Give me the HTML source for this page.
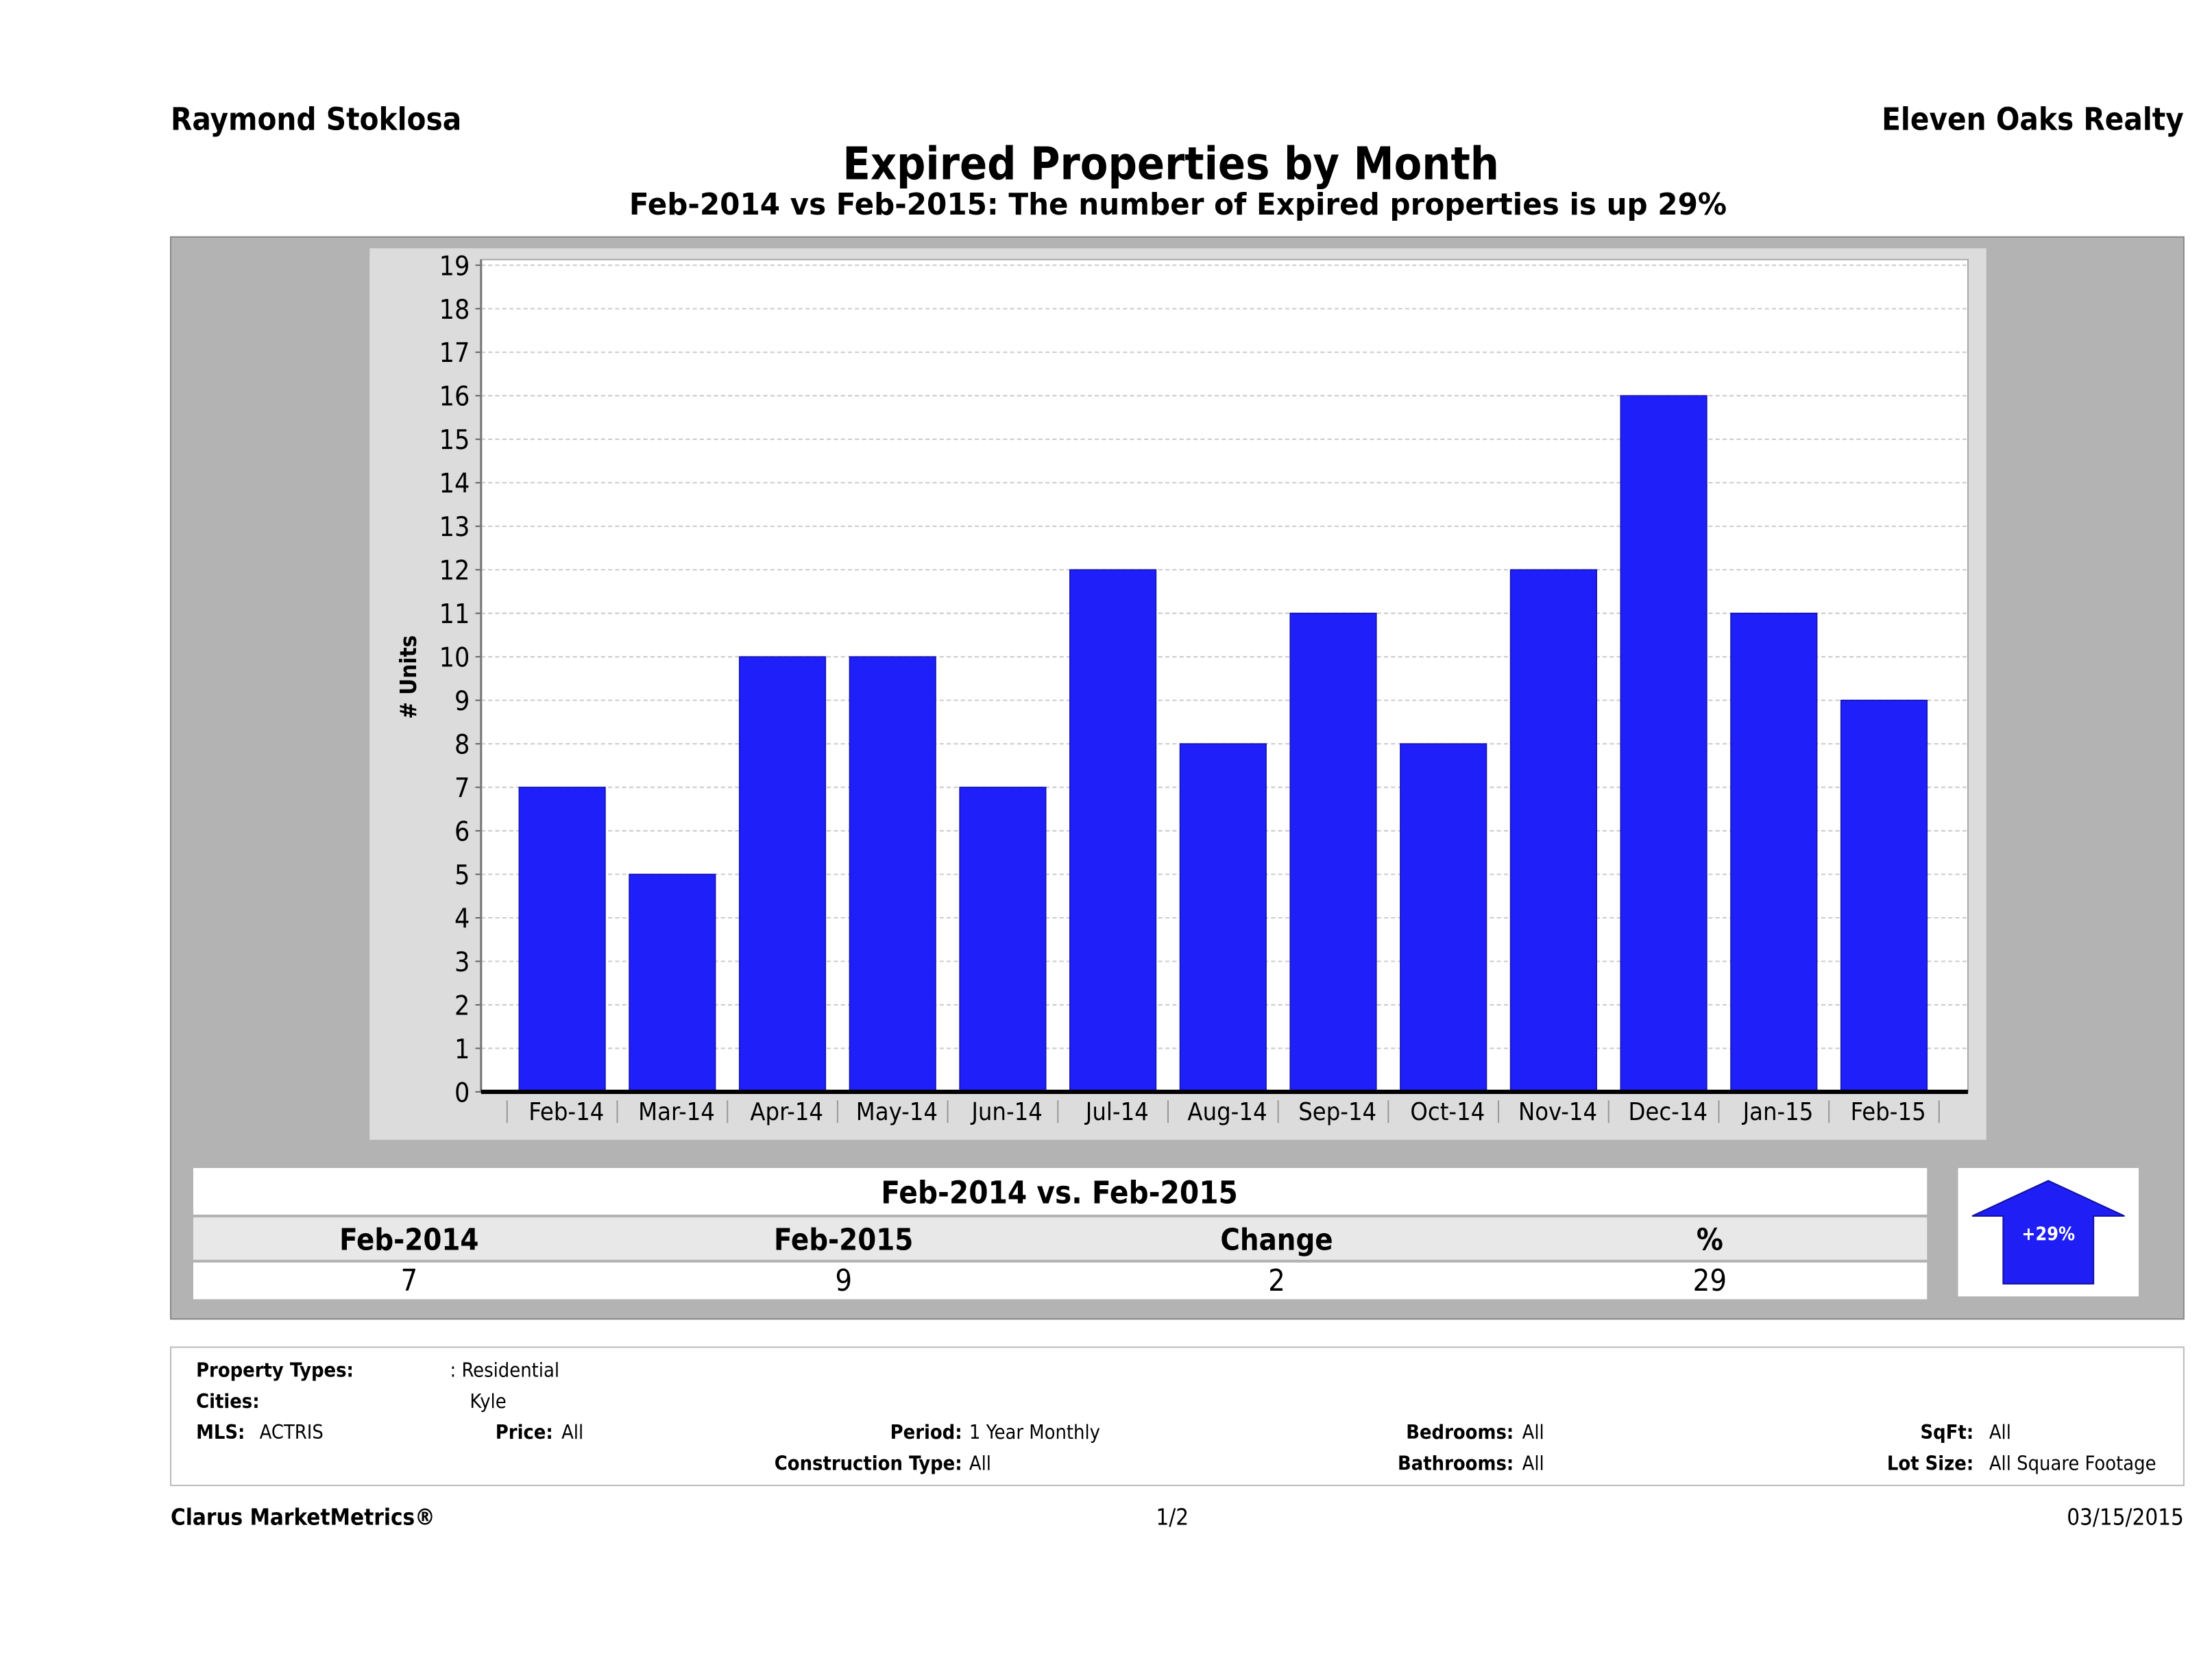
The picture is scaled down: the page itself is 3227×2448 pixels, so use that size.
<!DOCTYPE html>
<html><head><meta charset="utf-8"><style>
html,body{margin:0;padding:0;background:#fff}
svg{display:block}
text{font-family:"DejaVu Sans Condensed","Liberation Sans",sans-serif}
</style></head><body>
<svg id="page" width="3227" height="2448" viewBox="0 0 1568 1189.5" preserveAspectRatio="none" xmlns="http://www.w3.org/2000/svg">
<text x="121" y="92" font-size="22" font-weight="bold" fill="#000">Raymond Stoklosa</text>
<text x="1548" y="92" font-size="22" font-weight="bold" text-anchor="end" fill="#000">Eleven Oaks Realty</text>
<text x="830" y="127" font-size="32" font-weight="bold" text-anchor="middle">Expired Properties by Month</text>
<text x="446" y="152" font-size="21" font-weight="bold" textLength="778" lengthAdjust="spacingAndGlyphs">Feb-2014 vs Feb-2015: The number of Expired  properties is up 29%</text>
<rect x="121" y="168" width="1427" height="767" fill="#b3b3b3" stroke="#888" stroke-width="1"/>
<rect x="262" y="176" width="1146" height="632" fill="#dcdcdc"/>
<rect x="341" y="184" width="1054" height="590" fill="#fff" stroke="#aaa" stroke-width="1"/>
<g id="grid"></g>
<g id="bars"></g>
<g id="yaxis"></g>
<g id="xaxis"></g>
<text transform="translate(295,480) rotate(-90)" font-size="16" font-weight="bold" text-anchor="middle"># Units</text>

<g>
<rect x="137" y="828" width="1229" height="33" fill="#fff"/>
<rect x="137" y="863" width="1229" height="30" fill="#e8e8e8"/>
<rect x="137" y="895" width="1229" height="26" fill="#fff"/>
<text x="751" y="853" font-size="22" font-weight="bold" text-anchor="middle">Feb-2014 vs. Feb-2015</text>
<text x="290" y="886" font-size="21" font-weight="bold" text-anchor="middle">Feb-2014</text>
<text x="598" y="886" font-size="21" font-weight="bold" text-anchor="middle">Feb-2015</text>
<text x="905" y="886" font-size="21" font-weight="bold" text-anchor="middle">Change</text>
<text x="1212" y="886" font-size="21" font-weight="bold" text-anchor="middle">%</text>
<text x="290" y="915" font-size="21" text-anchor="middle">7</text>
<text x="598" y="915" font-size="21" text-anchor="middle">9</text>
<text x="905" y="915" font-size="21" text-anchor="middle">2</text>
<text x="1212" y="915" font-size="21" text-anchor="middle">29</text>
</g>
<g>
<rect x="1388" y="828" width="128" height="91" fill="#fff"/>
<polygon points="1452,837 1506,862 1484,862 1484,910 1420,910 1420,862 1398,862" fill="#1f1ff5" stroke="#1010a0" stroke-width="1"/>
<text x="1452" y="879" font-size="13" font-weight="bold" fill="#fff" text-anchor="middle">+29%</text>
</g>

<g font-size="14">
<rect x="121" y="955" width="1427" height="98" fill="#fff" stroke="#bbb" stroke-width="1"/>
<text x="139" y="976" font-weight="bold">Property Types:</text><text x="319" y="976">: Residential</text>
<text x="139" y="998" font-weight="bold">Cities:</text><text x="333" y="998">Kyle</text>
<text x="139" y="1020" font-weight="bold">MLS:</text><text x="184" y="1020">ACTRIS</text>
<text x="392" y="1020" font-weight="bold" text-anchor="end">Price:</text><text x="398" y="1020">All</text>
<text x="682" y="1020" font-weight="bold" text-anchor="end">Period:</text><text x="687" y="1020">1 Year Monthly</text>
<text x="1073" y="1020" font-weight="bold" text-anchor="end">Bedrooms:</text><text x="1079" y="1020">All</text>
<text x="1399" y="1020" font-weight="bold" text-anchor="end">SqFt:</text><text x="1410" y="1020">All</text>
<text x="682" y="1042" font-weight="bold" text-anchor="end">Construction Type:</text><text x="687" y="1042">All</text>
<text x="1073" y="1042" font-weight="bold" text-anchor="end">Bathrooms:</text><text x="1079" y="1042">All</text>
<text x="1399" y="1042" font-weight="bold" text-anchor="end">Lot Size:</text><text x="1410" y="1042">All Square Footage</text>
</g>
<text x="121" y="1081" font-size="16" font-weight="bold">Clarus MarketMetrics®</text>
<text x="831" y="1081" font-size="16" text-anchor="middle">1/2</text>
<text x="1548" y="1081" font-size="16" text-anchor="end">03/15/2015</text>
</svg>
<script>
const categories = ["Feb-14","Mar-14","Apr-14","May-14","Jun-14","Jul-14","Aug-14","Sep-14","Oct-14","Nov-14","Dec-14","Jan-15","Feb-15"];
const expiredCounts = [7,5,10,10,7,12,8,11,8,12,16,11,9];
const yTicks = [0,1,2,3,4,5,6,7,8,9,10,11,12,13,14,15,16,17,18,19];

const NS = "http://www.w3.org/2000/svg";
const plotLeft = 341, plotRight = 1395, y0px = 774, y19px = 188;
function yScale(v){ return y0px - v*(y0px - y19px)/19; }
const firstBar = 368, pitch = (1305-368)/12, barW = 61;
function xScale(i){ return firstBar + i*pitch; }
function mk(tag, attrs, parent){ const e=document.createElementNS(NS,tag); for(const k in attrs) e.setAttribute(k,attrs[k]); parent.appendChild(e); return e; }

const grid=document.getElementById('grid'), bars=document.getElementById('bars'), yaxis=document.getElementById('yaxis'), xaxis=document.getElementById('xaxis');
yTicks.forEach(t=>{
  const y=yScale(t);
  if(t>0){ const g=mk('line',{x1:plotLeft,x2:plotRight,y1:y,y2:y,stroke:'#ccc','stroke-width':1,'stroke-dasharray':'3,2'},grid);
  
   }
  const tk=mk('line',{x1:337,x2:341,y1:y,y2:y,stroke:'#666','stroke-width':1},yaxis);
  
  
  const lb=mk('text',{x:333,y:y+7,'font-size':19,'text-anchor':'end'},yaxis);
  lb.textContent=t;
  
  
});
mk('line',{x1:341,x2:341,y1:184,y2:774,stroke:'#777','stroke-width':1.5},yaxis);
expiredCounts.forEach((v,i)=>{
  const x=xScale(i), y=yScale(v);
  const r=mk('rect',{x:x,y:y,width:barW,height:y0px-y,fill:'#1f1ffa',stroke:'#1616b0','stroke-width':0.8},bars);
  
  
});
mk('line',{x1:341,x2:1395,y1:774,y2:774,stroke:'#000','stroke-width':3},xaxis);
categories.forEach((c,i)=>{
  const cx=xScale(i)+barW/2;
  const lb=mk('text',{x:cx+3,y:794,'font-size':17.5,'text-anchor':'middle'},xaxis);
  lb.textContent=c;
  
  
  const sx=cx-pitch/2;
  mk('line',{x1:sx,x2:sx,y1:780,y2:796,stroke:'#999','stroke-width':1},xaxis);
});
const lx=xScale(categories.length-1)+barW/2+pitch/2;
mk('line',{x1:lx,x2:lx,y1:780,y2:796,stroke:'#999','stroke-width':1},xaxis);
</script>
</body></html>
